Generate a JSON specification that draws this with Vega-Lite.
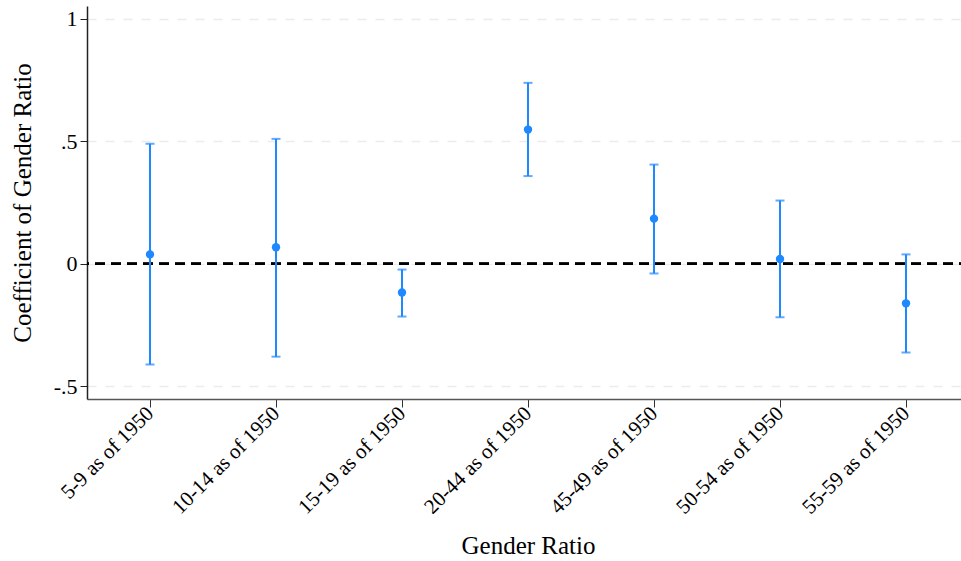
{
  "$schema": "https://vega.github.io/schema/vega-lite/v6.json",
  "usermeta": {"embedOptions": {"actions": false}},
  "width": 882,
  "height": 393,
  "autosize": {"type": "none"},
  "padding": {"left": 87, "top": 6, "right": -8, "bottom": 162},
  "background": "white",
  "config": {
    "view": {"stroke": null},
    "font": "Liberation Serif"
  },
  "data": {
    "values": [
      {"group": "5-9 as of 1950", "coef": 0.038, "lo": -0.412, "hi": 0.49},
      {"group": "10-14 as of 1950", "coef": 0.067, "lo": -0.38, "hi": 0.51},
      {"group": "15-19 as of 1950", "coef": -0.118, "lo": -0.216, "hi": -0.024},
      {"group": "20-44 as of 1950", "coef": 0.548, "lo": 0.358, "hi": 0.739},
      {"group": "45-49 as of 1950", "coef": 0.184, "lo": -0.04, "hi": 0.405},
      {"group": "50-54 as of 1950", "coef": 0.019, "lo": -0.219, "hi": 0.258},
      {"group": "55-59 as of 1950", "coef": -0.162, "lo": -0.363, "hi": 0.038}
    ]
  },
  "encoding": {
    "x": {
      "field": "group",
      "type": "ordinal",
      "sort": null,
      "scale": {"type": "point", "padding": 0.5},
      "axis": {
        "title": "Gender Ratio",
        "titleFont": "Liberation Serif",
        "titleFontSize": 25,
        "titleFontWeight": "normal",
        "titleColor": "black",
        "titlePadding": 16,
        "titleX": 441,
        "labelAngle": -45,
        "labelAlign": "right",
        "labelBaseline": "middle",
        "labelFont": "Liberation Serif",
        "labelFontSize": 21,
        "labelColor": "black",
        "labelPadding": 3,
        "tickSize": 8,
        "tickColor": "#333333",
        "domainColor": "#555555",
        "domainWidth": 1.5,
        "grid": false
      }
    }
  },
  "layer": [
    {
      "mark": {"type": "rule", "color": "black", "strokeDash": [10, 6], "strokeWidth": 2},
      "encoding": {"y": {"datum": 0, "type": "quantitative"}, "x": null}
    },
    {
      "mark": {"type": "rule", "color": "#1e88ff", "strokeWidth": 2},
      "encoding": {
        "y": {
          "field": "lo",
          "type": "quantitative",
          "scale": {"domain": [-0.553, 1.053], "nice": false, "zero": false},
          "axis": {
            "title": "Coefficient of Gender Ratio",
            "titleFont": "Liberation Serif",
            "titleFontSize": 25,
            "titleFontWeight": "normal",
            "titleColor": "black",
            "titlePadding": 18,
            "values": [-0.5, 0, 0.5, 1],
            "labelExpr": "datum.value == 0 ? '0' : datum.value == 1 ? '1' : datum.value == 0.5 ? '.5' : '-.5'",
            "labelFont": "Liberation Serif",
            "labelFontSize": 22,
            "labelColor": "black",
            "labelPadding": 3,
            "tickSize": 7,
            "tickColor": "#222222",
            "domainColor": "#222222",
            "domainWidth": 1.5,
            "grid": true,
            "gridColor": "#ececec",
            "gridDash": [9, 9],
            "gridWidth": 1.5
          }
        },
        "y2": {"field": "hi"}
      }
    },
    {
      "mark": {"type": "tick", "color": "#1e88ff", "thickness": 2, "size": 9, "orient": "horizontal"},
      "encoding": {"y": {"field": "lo", "type": "quantitative"}}
    },
    {
      "mark": {"type": "tick", "color": "#1e88ff", "thickness": 2, "size": 9, "orient": "horizontal"},
      "encoding": {"y": {"field": "hi", "type": "quantitative"}}
    },
    {
      "mark": {"type": "point", "filled": true, "color": "#1e88ff", "opacity": 1, "size": 70},
      "encoding": {"y": {"field": "coef", "type": "quantitative"}}
    }
  ]
}
